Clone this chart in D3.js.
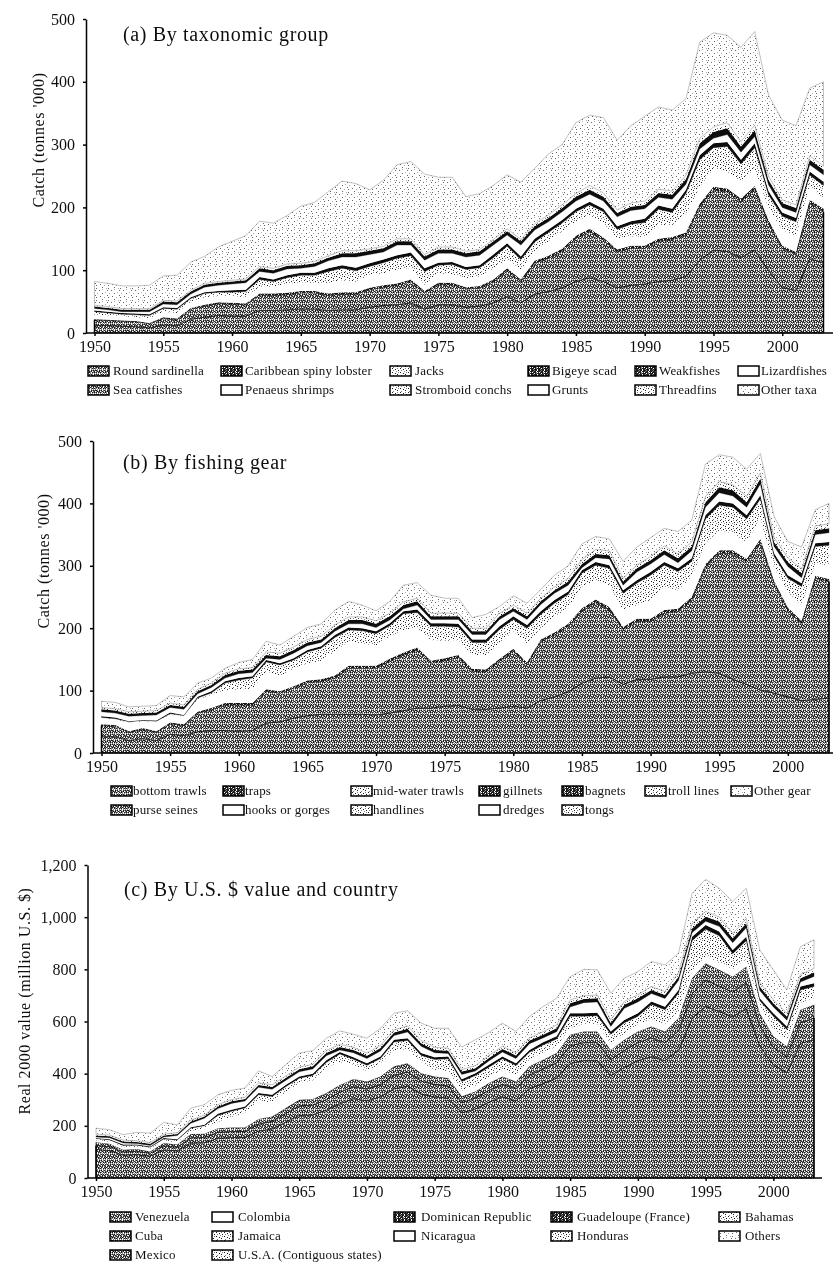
<!DOCTYPE html>
<html>
<head>
<meta charset="utf-8">
<script src="https://d3js.org/d3.v7.min.js"></script>
<style>
  body { margin: 0; background: #fff; }
  svg { display: block; }
  text { font-family: "Liberation Serif", serif; fill: #111; }
</style>
</head>
<body>
<div id="chart"></div>
<script>
const years = d3.range(1950, 2004);

// (a) catch by taxonomic group, thousand tonnes, bottom of the stack first
const taxaNames = ["Round sardinella", "Sea catfishes", "Caribbean spiny lobster", "Penaeus shrimps", "Jacks", "Stromboid conchs", "Bigeye scad", "Grunts", "Weakfishes", "Threadfins", "Lizardfishes", "Other taxa"];
const roundSardinella = [12,12,11,10,8,13,12,22,25,28,27,27,36,36,37,38,38,36,37,37,41,44,45,48,38,45,45,41,43,48,58,48,62,66,72,82,88,82,72,76,78,82,84,90,116,132,130,120,132,100,72,68,118,112];
const seaCatfishes = [9,8,8,8,7,10,9,16,18,19,19,18,25,24,24,26,26,24,25,25,28,29,31,34,26,32,32,29,29,34,41,34,49,53,58,69,74,66,57,59,57,64,65,66,85,96,95,89,97,75,63,57,89,81];
const spinyLobster = [1,1,1,1,1,2,2,2,2,2,2,2,2,3,3,3,3,3,3,3,3,3,3,3,3,3,3,3,3,3,4,3,4,4,4,4,4,4,4,4,4,4,4,4,5,5,5,5,5,5,4,4,5,5];
const penaeusShrimps = [7,7,7,6,8,9,9,10,12,10,11,10,11,11,14,14,13,17,19,17,21,19,21,19,10,15,14,14,15,18,15,16,16,23,28,23,22,23,18,15,14,22,19,30,27,29,27,27,28,20,25,25,24,15];
const jacks = [3,2,2,2,2,3,3,3,3,3,3,5,6,4,5,6,6,9,10,9,7,9,10,10,11,7,8,7,7,9,10,8,7,7,7,8,8,9,7,10,12,13,10,16,22,17,20,14,17,10,11,12,8,11];
const stromboidConchs = [2,2,1,2,2,2,3,2,3,3,3,4,5,4,5,5,6,9,9,8,6,8,9,9,10,6,7,7,7,8,10,8,7,7,6,7,8,9,7,9,11,12,10,16,21,16,20,14,16,10,11,11,7,11];
const bigeyeScad = [2,2,2,2,2,2,2,2,2,2,3,3,4,3,4,4,4,5,5,5,5,5,5,5,5,4,4,4,4,5,5,5,5,5,5,5,5,5,5,5,6,6,6,6,7,7,7,7,7,6,6,6,6,6];
const grunts = [3,3,2,3,4,5,5,5,8,9,10,11,9,10,10,7,10,12,13,17,14,12,16,12,13,15,14,16,16,15,13,18,14,12,13,12,12,12,15,17,16,13,15,9,10,8,12,12,11,10,8,9,11,11];
const weakfishes = [3,3,3,3,3,4,4,4,4,4,4,4,5,5,5,5,5,5,6,6,6,6,6,6,6,6,6,6,6,6,6,6,6,6,6,7,7,7,6,6,6,7,7,8,9,10,10,9,10,8,7,7,8,8];
const threadfins = [1,1,1,1,1,1,1,1,1,1,1,1,2,2,2,2,2,2,3,3,2,2,3,3,2,3,3,2,2,2,3,2,3,3,3,3,5,4,3,4,4,4,4,4,5,5,6,5,5,4,3,3,4,4];
const lizardfishes = [1,1,1,1,1,1,1,1,1,1,1,1,1,1,1,1,1,1,1,1,1,1,1,1,1,1,1,1,1,1,1,1,1,2,2,2,2,2,2,2,2,2,2,2,3,3,3,3,3,2,2,2,2,2];
const otherTaxa = [38,37,36,36,37,39,41,45,43,55,62,69,72,72,77,91,94,102,111,107,94,105,118,123,128,111,111,87,89,86,86,91,88,97,96,113,112,120,111,123,135,131,129,122,153,150,139,150,149,129,127,126,108,134];

// (b) catch by fishing gear, thousand tonnes
const gearNames = ["bottom trawls", "purse seines", "traps", "hooks or gorges", "mid-water trawls", "handlines", "gillnets", "dredges", "bagnets", "tongs", "troll lines", "Other gear"];
const bottomTrawls = [26,26,20,23,20,30,28,34,36,36,35,36,48,50,56,60,62,62,62,62,61,64,68,72,72,75,76,70,70,72,75,72,84,90,98,112,120,122,110,118,118,122,122,128,130,128,118,110,101,96,90,84,86,88];
const purseSeines = [18,17,13,15,13,17,16,30,33,41,42,41,51,46,48,53,53,58,74,74,75,83,89,93,72,73,77,61,60,75,88,69,95,99,105,115,121,107,88,93,93,102,105,117,168,192,202,196,237,176,139,124,194,187];
const traps = [2,2,2,2,2,2,2,2,3,3,3,3,3,3,3,3,3,4,4,4,4,4,4,4,4,4,4,4,4,4,4,4,3,4,4,5,5,5,4,4,4,5,4,5,5,5,5,5,5,4,4,4,4,4];
const hooksOrGorges = [10,9,14,11,16,12,13,20,21,21,22,23,29,24,29,28,30,39,39,36,32,36,36,32,33,28,24,22,23,25,28,31,18,26,25,35,31,35,27,22,30,38,30,33,33,32,27,27,33,21,25,25,20,22];
const midWaterTrawls = [1,1,1,1,0,1,1,1,2,6,8,9,8,9,7,9,10,11,9,10,10,9,13,12,11,12,11,10,10,11,10,12,11,11,11,11,12,14,14,18,20,17,15,12,20,20,21,19,16,9,11,15,14,16];
const handlines = [0,0,0,0,0,1,0,1,1,5,7,8,7,9,6,9,10,11,9,10,9,8,13,12,11,11,10,10,10,11,9,12,11,10,11,10,12,13,13,17,20,17,15,12,19,20,21,18,15,9,11,15,13,16];
const gillnets = [2,2,1,1,1,2,1,2,3,3,3,3,3,3,3,3,3,4,4,4,4,4,4,5,5,5,5,5,5,5,5,5,5,5,5,5,5,5,5,5,5,5,5,5,6,6,6,6,6,5,5,5,5,5];
const dredges = [7,7,8,7,9,8,9,5,6,5,7,6,3,6,8,7,6,6,6,7,6,5,4,7,6,6,7,8,8,11,8,9,11,11,10,4,7,10,8,13,13,12,9,12,13,14,12,13,18,11,14,9,14,15];
const bagnets = [4,4,4,4,4,4,4,4,4,5,5,5,5,5,5,5,5,5,6,6,6,6,6,6,5,5,5,5,5,5,5,5,5,5,6,6,6,6,6,6,6,7,7,7,8,9,9,8,9,7,7,7,7,7];
const tongs = [2,2,2,2,2,2,2,2,2,2,2,2,3,3,3,3,3,3,3,3,3,3,3,3,3,3,3,3,3,3,3,3,3,3,3,4,4,4,3,3,4,4,4,4,5,5,5,5,5,4,4,4,4,4];
const trollLines = [1,1,1,1,1,1,1,1,1,1,1,1,2,2,2,2,2,2,2,2,2,2,2,2,2,2,2,2,2,2,2,2,2,2,2,3,3,3,2,2,2,3,3,3,4,4,4,4,4,3,3,3,3,3];
const otherGear = [10,10,8,8,8,12,13,10,8,8,10,13,17,13,17,19,20,24,25,19,16,19,27,25,29,24,24,17,22,11,15,16,14,19,20,25,21,19,27,29,30,28,36,35,52,43,44,44,31,34,26,35,26,33];

// (c) real 2000 value by country, million U.S. $
const countryNames = ["Venezuela", "Cuba", "Mexico", "Colombia", "Jamaica", "U.S.A. (Contiguous states)", "Dominican Republic", "Nicaragua", "Guadeloupe (France)", "Honduras", "Bahamas", "Others"];
const venezuela = [110,105,88,90,84,108,104,134,135,152,155,155,180,188,214,240,242,260,285,304,296,311,342,352,322,311,306,250,265,291,311,296,342,362,383,439,450,450,393,424,450,465,450,490,612,658,638,618,649,506,434,403,516,531];
const cuba = [15,15,12,12,11,15,14,20,20,23,23,23,27,29,33,37,37,40,44,46,45,47,52,54,49,48,47,39,41,45,48,46,53,56,59,68,69,69,60,65,69,72,69,75,94,101,98,95,100,78,67,62,79,82];
const mexico = [12,11,8,9,7,11,10,15,15,16,16,16,19,19,21,23,24,26,28,30,29,31,34,34,31,30,30,24,26,28,30,28,33,35,37,42,43,43,38,41,43,44,43,48,60,64,62,59,62,48,42,39,50,51];
const colombia = [8,9,10,9,10,9,10,11,20,24,41,56,69,54,62,65,72,99,88,55,40,51,62,55,43,26,27,22,23,24,26,25,27,27,26,26,28,28,24,25,28,29,28,27,29,27,27,28,29,28,27,26,27,26];
const jamaica = [3,3,3,3,3,3,4,5,5,10,9,8,10,10,9,8,8,9,13,9,10,9,13,14,11,16,19,15,16,15,17,15,12,13,13,19,14,15,16,17,14,22,22,27,43,40,40,25,28,10,21,17,21,19];
const usa = [3,3,4,3,3,4,4,6,5,15,12,10,14,12,11,9,10,9,17,11,12,9,18,18,14,23,28,20,22,22,25,21,15,17,15,26,16,17,20,23,16,33,33,41,72,64,64,35,42,10,29,22,28,25];
const dominican = [2,3,3,2,3,3,3,4,4,6,6,6,7,7,7,7,7,8,8,8,8,8,9,9,9,9,9,9,9,9,9,9,9,10,10,12,12,12,11,11,12,12,12,13,15,16,16,14,15,9,12,12,13,13];
const nicaragua = [4,5,6,4,4,4,14,15,25,20,24,21,22,21,17,18,18,18,8,17,18,21,16,24,26,17,11,18,8,15,17,18,24,17,18,24,40,41,19,45,43,30,31,36,15,14,20,28,34,30,24,24,17,26];
const guadeloupe = [6,6,6,6,6,6,6,7,7,8,8,8,9,9,9,10,10,10,11,11,11,11,12,12,12,11,11,11,11,11,12,12,12,12,13,14,14,14,13,13,14,14,14,15,17,18,18,17,18,15,14,14,15,15];
const honduras = [3,3,3,3,3,3,3,3,3,4,4,4,5,5,5,5,5,6,6,6,6,6,6,7,6,6,6,5,6,6,6,6,6,7,7,8,8,8,7,8,8,8,8,9,11,12,11,11,11,9,8,8,9,9];
const bahamas = [2,2,2,2,2,2,2,2,2,3,3,3,3,3,3,3,3,4,4,4,4,4,4,4,4,4,4,3,4,4,4,4,4,5,5,5,5,5,5,5,5,5,5,6,7,8,7,7,7,6,5,5,6,6];
const others = [23,20,21,32,36,45,30,46,40,38,35,35,46,32,43,54,52,47,52,50,57,66,64,58,67,73,76,86,99,88,89,82,82,96,103,89,101,96,103,89,89,96,102,75,116,123,110,123,116,126,115,89,106,110];

const width = 835, height = 1263;
const svg = d3.select("#chart").append("svg")
  .attr("width", width)
  .attr("height", height)
  .attr("viewBox", "0 0 " + width + " " + height);

// halftone tiles: '#' inked, '+' grey, '.' paper
const tiles = {
  dark: [
    "#+.#+#.+#+.#+#+#",
    "+#+#.+#+.#+#.+#.",
    "#.#+#+.#+#+.#+#+",
    "+.+.+.+.+.+.+.+.",
    "#+#.+#+#.#+#+.#+",
    ".#+#+.#+#+.+#+#.",
    "+#.+#+#.+#.#+#+#",
    "#+#+.#+.#+#+.#.+",
    "+.#+#+.#+#.+#+#+",
    ".+.+.+.+.+.+.+.+"
  ],
  dense: ["##+##.#", "#+##.##", ".###+.#", "##.#+##", "#+###.#"],
  mid: [
    "#....+..",
    "...#....",
    ".+....#.",
    "....+...",
    "#.....+.",
    "...#....",
    ".....#..",
    ".+......"
  ],
  sparse: [
    "#.........+.",
    "......+.....",
    "...#.......#",
    "............",
    ".........+..",
    ".+....#.....",
    "............",
    "...........#",
    "....#.......",
    "#.......+...",
    "............",
    "......#....."
  ]
};
const inkOf = {
  dark: { "#": "#1a1a1a", "+": "#808080" },
  dense: { "#": "#1a1a1a", "+": "#808080" },
  mid: { "#": "#1a1a1a", "+": "#808080" },
  sparse: { "#": "#666", "+": "#aaa" }
};
const defs = svg.append("defs");
Object.keys(tiles).forEach(function (key) {
  const rows = tiles[key];
  const pattern = defs.append("pattern")
    .attr("id", "tile-" + key)
    .attr("patternUnits", "userSpaceOnUse")
    .attr("width", rows[0].length)
    .attr("height", rows.length);
  pattern.append("rect")
    .attr("width", rows[0].length).attr("height", rows.length).attr("fill", "#fff");
  rows.forEach(function (row, j) {
    row.split("").forEach(function (c, i) {
      if (c === ".") return;
      pattern.append("rect")
        .attr("x", i).attr("y", j).attr("width", 1).attr("height", 1)
        .attr("fill", inkOf[key][c]);
    });
  });
});

// slight softening, the original is a scanned print
defs.append("filter")
  .attr("id", "scan")
  .attr("x", 0).attr("y", 0).attr("width", 1).attr("height", 1)
  .attr("filterUnits", "objectBoundingBox")
  .append("feGaussianBlur")
  .attr("stdDeviation", 0.35);

function fillOf(kind) {
  if (kind === "white") return "#fff";
  if (kind === "black") return "#0a0a0a";
  return "url(#tile-" + kind + ")";
}

const strokeWidths = { dark: 0.7, dense: 0.3, mid: 0, white: 0, black: 0.3, sparse: 0.4 };
const root = svg.append("g").attr("filter", "url(#scan)");
root.append("rect").attr("width", width).attr("height", height).attr("fill", "#fff");

function drawPanel(p) {
  const g = root.append("g");

  const x = d3.scaleLinear().domain([1950, 2003]).range([p.x1950, p.x2003]);
  const y = d3.scaleLinear().domain([0, p.maxY]).range([p.y0, p.yTop]);

  const rows = years.map(function (year, i) {
    const row = { year: year };
    p.names.forEach(function (name, k) { row[name] = p.values[k][i]; });
    return row;
  });
  const layers = d3.stack().keys(p.names)(rows);

  const area = d3.area()
    .x(function (d) { return x(d.data.year); })
    .y0(function (d) { return y(d[0]); })
    .y1(function (d) { return y(d[1]); });

  g.selectAll("path.layer")
    .data(layers)
    .enter().append("path")
    .attr("class", "layer")
    .attr("d", area)
    .attr("fill", function (d, i) { return fillOf(p.fills[i]); })
    .attr("stroke", function (d, i) { return p.fills[i] === "sparse" ? "#666" : "#111"; })
    .attr("stroke-width", function (d, i) { return strokeWidths[p.fills[i]]; });

  // black edges at both ends of the main band
  [1950, 2003].forEach(function (year) {
    const row = years.indexOf(year);
    g.append("line")
      .attr("x1", x(year)).attr("x2", x(year))
      .attr("y1", y(0)).attr("y2", y(layers[1][row][1]))
      .attr("stroke", "#000").attr("stroke-width", 1.5);
  });

  const xAxis = d3.axisBottom(x)
    .tickValues(d3.range(1950, 2001, 5))
    .tickFormat(d3.format("d"))
    .tickSize(3)
    .tickSizeOuter(0)
    .tickPadding(5);
  const xg = g.append("g").attr("transform", "translate(0," + p.y0 + ")").call(xAxis);
  xg.select(".domain").remove();
  g.append("line")
    .attr("x1", p.axisX).attr("x2", p.xEnd)
    .attr("y1", p.y0).attr("y2", p.y0)
    .attr("stroke", "#000").attr("stroke-width", 1.5);

  const yAxis = d3.axisLeft(y)
    .tickValues(p.yTicks)
    .tickFormat(d3.format(","))
    .tickSize(3)
    .tickSizeOuter(0)
    .tickPadding(8);
  g.append("g").attr("transform", "translate(" + p.axisX + ",0)").call(yAxis);

  g.selectAll(".tick text")
    .style("font-family", "'Liberation Serif', serif")
    .style("font-size", "16px")
    .attr("fill", "#111");
  g.selectAll(".tick line, .domain").attr("stroke", "#000").attr("stroke-width", 1.5);

  g.append("text")
    .attr("x", p.titleX).attr("y", p.titleY)
    .style("font-size", "20px")
    .style("letter-spacing", "0.65px")
    .text(p.title);

  g.append("text")
    .attr("transform", "translate(" + p.labelX + "," + p.labelY + ") rotate(-90)")
    .attr("text-anchor", "middle")
    .style("font-size", "16px")
    .style("letter-spacing", "0.55px")
    .text(p.yLabel);

  // legend is filled column by column, columns hold different numbers of entries
  let next = 0;
  p.legendCols.forEach(function (count, col) {
    d3.range(count).forEach(function (r) {
      const i = next++;
      const rowY = p.legendRows[r];
      g.append("rect")
        .attr("x", p.swatchX[col]).attr("y", rowY - 5)
        .attr("width", 21).attr("height", 10)
        .attr("fill", fillOf(p.fills[i] === "black" ? "dense" : p.fills[i]))
        .attr("stroke", "#000").attr("stroke-width", 1.5);
      g.append("text")
        .attr("x", p.textX[col]).attr("y", rowY).attr("dy", "0.33em")
        .style("font-size", "13px")
        .style("letter-spacing", "0.15px")
        .text(p.names[i]);
    });
  });
}

drawPanel({
  names: taxaNames,
  values: [roundSardinella, seaCatfishes, spinyLobster, penaeusShrimps, jacks, stromboidConchs, bigeyeScad, grunts, weakfishes, threadfins, lizardfishes, otherTaxa],
  fills: ["dark", "dark", "dense", "white", "mid", "mid", "black", "white", "black", "mid", "white", "sparse"],
  maxY: 500, yTicks: [0, 100, 200, 300, 400, 500],
  x1950: 94.5, x2003: 823.5, xEnd: 833, axisX: 86, y0: 333, yTop: 19,
  title: "(a) By taxonomic group", titleX: 123, titleY: 41,
  yLabel: "Catch (tonnes '000)", labelX: 44, labelY: 140,
  legendRows: [371, 390],
  legendCols: [2, 2, 2, 2, 2, 2],
  swatchX: [88, 221, 390, 528, 635, 738],
  textX: [113, 245, 415, 552, 659, 761]
});

drawPanel({
  names: gearNames,
  values: [bottomTrawls, purseSeines, traps, hooksOrGorges, midWaterTrawls, handlines, gillnets, dredges, bagnets, tongs, trollLines, otherGear],
  fills: ["dark", "dark", "dense", "white", "mid", "mid", "black", "white", "black", "mid", "mid", "sparse"],
  maxY: 500, yTicks: [0, 100, 200, 300, 400, 500],
  x1950: 101.5, x2003: 829, xEnd: 833, axisX: 93, y0: 753, yTop: 441,
  title: "(b) By fishing gear", titleX: 123, titleY: 469,
  yLabel: "Catch (tonnes '000)", labelX: 49, labelY: 561,
  legendRows: [791, 810],
  legendCols: [2, 2, 2, 2, 2, 1, 1],
  swatchX: [111, 223, 351, 479, 562, 645, 731],
  textX: [133, 245, 373, 503, 585, 668, 754]
});

drawPanel({
  names: countryNames,
  values: [venezuela, cuba, mexico, colombia, jamaica, usa, dominican, nicaragua, guadeloupe, honduras, bahamas, others],
  fills: ["dark", "dark", "dark", "white", "mid", "mid", "black", "white", "black", "mid", "mid", "sparse"],
  maxY: 1200, yTicks: [0, 200, 400, 600, 800, 1000, 1200],
  x1950: 96, x2003: 814, xEnd: 822, axisX: 87.5, y0: 1178, yTop: 865,
  title: "(c) By U.S. $ value and country", titleX: 124, titleY: 896,
  yLabel: "Real 2000 value (million U.S. $)", labelX: 30, labelY: 1001,
  legendRows: [1217, 1236, 1255],
  legendCols: [3, 3, 2, 2, 2],
  swatchX: [110, 212, 394, 551, 719],
  textX: [135, 238, 421, 577, 745]
});
</script>
</body>
</html>
